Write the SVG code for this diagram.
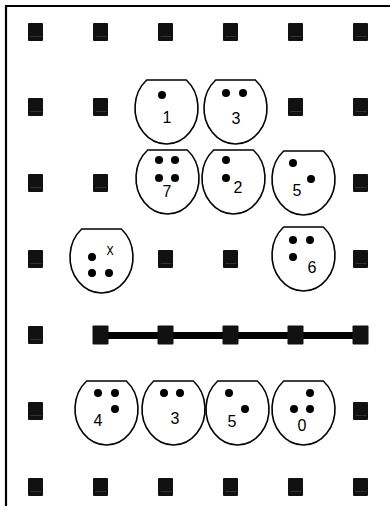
<svg xmlns="http://www.w3.org/2000/svg" xmlns:xlink="http://www.w3.org/1999/xlink" width="390" height="506" viewBox="0 0 390 506">
<style>
.bowl{fill:#fff;stroke:#000;stroke-width:1.6}
.pip{fill:#000}
.dg{font-family:"Liberation Sans",Arial,sans-serif;font-size:16px;fill:#000;text-anchor:middle}
.xl{font-family:"Liberation Mono","Courier New",monospace;font-size:12px;fill:#000;text-anchor:middle}
.sq{fill:#111}
.sql{stroke:#333;stroke-width:1}
.frame{fill:none;stroke:#000;stroke-width:2.2}
.bar{stroke:#000;stroke-width:7}
</style>
<defs>
<path id="bowl" class="bowl" d="M11.7,0 H51.3 A31.5,36 0 1 1 11.7,0 Z"/>
<g id="sq"><rect class="sq" x="-7.5" y="-9" width="15" height="18" rx="1"/><line class="sql" x1="-5" y1="4.5" x2="6" y2="4.5"/></g>
<g id="sqb"><rect class="sq" x="-8" y="-9.5" width="16" height="19" rx="1"/></g>
</defs>
<path class="frame" d="M6,506 V6 H390"/>
<g id="grid">
<use href="#sq" x="35.5" y="32"/><use href="#sq" x="100.5" y="32"/><use href="#sq" x="165.5" y="32"/><use href="#sq" x="230.5" y="32"/><use href="#sq" x="295.5" y="32"/><use href="#sq" x="360.5" y="32"/>
<use href="#sq" x="35.5" y="107"/><use href="#sq" x="100.5" y="107"/><use href="#sq" x="295.5" y="107"/><use href="#sq" x="360.5" y="107"/>
<use href="#sq" x="35.5" y="183"/><use href="#sq" x="100.5" y="183"/><use href="#sq" x="360.5" y="183"/>
<use href="#sq" x="35.5" y="259"/><use href="#sq" x="165.5" y="259"/><use href="#sq" x="230.5" y="259"/><use href="#sq" x="360.5" y="259"/>
<use href="#sq" x="35.5" y="335"/>
<use href="#sq" x="35.5" y="411"/><use href="#sq" x="360.5" y="411"/>
<use href="#sq" x="35.5" y="487"/><use href="#sq" x="100.5" y="487"/><use href="#sq" x="165.5" y="487"/><use href="#sq" x="230.5" y="487"/><use href="#sq" x="295.5" y="487"/><use href="#sq" x="360.5" y="487"/>
</g>
<g id="connectors">
<line class="bar" x1="100.5" y1="335.5" x2="360.5" y2="335.5"/>
<use href="#sqb" x="100.5" y="335"/><use href="#sqb" x="165.5" y="335"/><use href="#sqb" x="230.5" y="335"/><use href="#sqb" x="295.5" y="335"/><use href="#sqb" x="360.5" y="335"/>
</g>
<g id="n1"><use href="#bowl" x="135" y="80"/><circle class="pip" cx="162" cy="95" r="4"/><text class="dg" x="167" y="123">1</text></g>
<g id="n3"><use href="#bowl" x="204" y="80"/><circle class="pip" cx="226" cy="93" r="4"/><circle class="pip" cx="243" cy="93" r="4"/><text class="dg" x="236" y="124">3</text></g>
<g id="n7"><use href="#bowl" x="136" y="150"/><circle class="pip" cx="159" cy="160" r="4"/><circle class="pip" cx="175" cy="160" r="4"/><circle class="pip" cx="159" cy="178" r="4"/><circle class="pip" cx="175" cy="178" r="4"/><text class="dg" x="167" y="197">7</text></g>
<g id="n2"><use href="#bowl" x="202" y="150"/><circle class="pip" cx="226" cy="160" r="4"/><circle class="pip" cx="226" cy="178" r="4"/><text class="dg" x="238" y="193">2</text></g>
<g id="n5"><use href="#bowl" x="272" y="151"/><circle class="pip" cx="293" cy="163" r="4"/><circle class="pip" cx="311" cy="179" r="4"/><text class="dg" x="297" y="196">5</text></g>
<g id="nX"><use href="#bowl" x="70" y="229"/><circle class="pip" cx="92" cy="257" r="4"/><circle class="pip" cx="92" cy="273" r="4"/><circle class="pip" cx="109" cy="273" r="4"/><text class="xl" x="110" y="255">X</text></g>
<g id="n6"><use href="#bowl" x="272" y="227"/><circle class="pip" cx="293" cy="240" r="4"/><circle class="pip" cx="310" cy="240" r="4"/><circle class="pip" cx="293" cy="257" r="4"/><text class="dg" x="312" y="273">6</text></g>
<g id="n4"><use href="#bowl" x="75" y="381"/><circle class="pip" cx="98" cy="393" r="4"/><circle class="pip" cx="115" cy="393" r="4"/><circle class="pip" cx="115" cy="409" r="4"/><text class="dg" x="98" y="426">4</text></g>
<g id="n3b"><use href="#bowl" x="142" y="381"/><circle class="pip" cx="164" cy="393" r="4"/><circle class="pip" cx="180" cy="393" r="4"/><text class="dg" x="175" y="424">3</text></g>
<g id="n5b"><use href="#bowl" x="206" y="381"/><circle class="pip" cx="229" cy="393" r="4"/><circle class="pip" cx="245" cy="409" r="4"/><text class="dg" x="232" y="427">5</text></g>
<g id="n0"><use href="#bowl" x="272" y="381"/><circle class="pip" cx="310" cy="393" r="4"/><circle class="pip" cx="294" cy="409" r="4"/><circle class="pip" cx="310" cy="409" r="4"/><text class="dg" x="302" y="431">0</text></g>
</svg>
